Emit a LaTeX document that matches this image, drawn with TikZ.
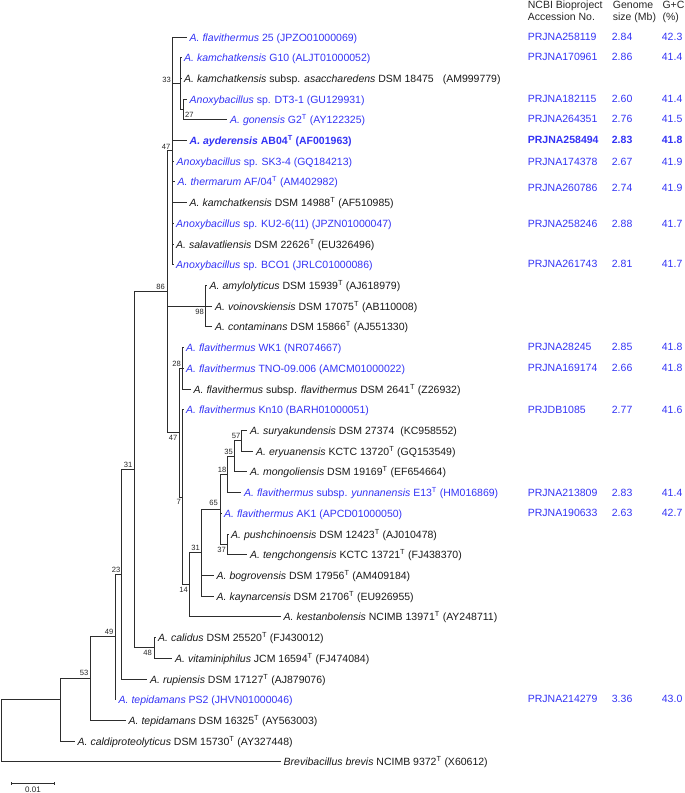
\documentclass[tikz,border=0pt]{standalone}
\usepackage{fontspec}
\setmainfont{Liberation Sans}
\usepackage{xcolor}
\usepackage{tikz}
\usetikzlibrary{calc}

\definecolor{strainblue}{RGB}{51,51,245}
\definecolor{treegray}{RGB}{45,45,45}
\newcommand{\tstrain}{\textsuperscript{T}}

\tikzset{
  taxon/.style={anchor=west, inner xsep=3pt, inner ysep=0pt, text height=7.5pt, text depth=0pt,
    font=\fontsize{10.5}{12}\selectfont, text=black!90},
  genome/.style={taxon, text=strainblue},
  meta/.style={anchor=west, inner sep=0pt, text height=7.5pt, text depth=0pt,
    font=\fontsize{10.5}{12}\selectfont, text=strainblue},
  head/.style={meta, text=black!85},
  support/.style={inner sep=0pt, font=\fontsize{7.6}{9}\selectfont, text=black!85},
  branch/.style={treegray, line width=1.2pt}
}

\begin{document}
\begin{tikzpicture}[x=1pt, y=-1pt]
  \useasboundingbox (0,0) rectangle (685,793);

  % Taxa
  \node[genome] (t1) at (186.5,37.5) {\textit{A. flavithermus} 25 (JPZO01000069)};
  \node[genome] (t2) at (181,57.5) {\textit{A. kamchatkensis} G10 (ALJT01000052)};
  \node[taxon] (t3) at (181,78.5) {\textit{A. kamchatkensis} subsp. \textit{asaccharedens} DSM 18475\hspace{9pt}(AM999779)};
  \node[genome] (t4) at (186.5,99.5) {\textit{Anoxybacillus} sp. DT3-1 (GU129931)};
  \node[genome] (t5) at (227,119.5) {\textit{A. gonensis} G2\tstrain{} (AY122325)};
  \node[genome, font=\fontsize{10.5}{12}\selectfont\bfseries] (t6) at (186.5,140.5) {\textit{A. ayderensis} AB04\tstrain{} (AF001963)};
  \node[genome] (t7) at (173.5,161.5) {\textit{Anoxybacillus} sp. SK3-4 (GQ184213)};
  \node[genome] (t8) at (174.5,181.5) {\textit{A. thermarum} AF/04\tstrain{} (AM402982)};
  \node[taxon] (t9) at (186.5,202.5) {\textit{A. kamchatkensis} DSM 14988\tstrain{} (AF510985)};
  \node[genome] (t10) at (173,223.5) {\textit{Anoxybacillus} sp. KU2-6(11) (JPZN01000047)};
  \node[taxon] (t11) at (173,244.5) {\textit{A. salavatliensis} DSM 22626\tstrain{} (EU326496)};
  \node[genome] (t12) at (173,264.5) {\textit{Anoxybacillus} sp. BCO1 (JRLC01000086)};
  \node[taxon] (t13) at (206.5,285.5) {\textit{A. amylolyticus} DSM 15939\tstrain{} (AJ618979)};
  \node[taxon] (t14) at (212,306.5) {\textit{A. voinovskiensis} DSM 17075\tstrain{} (AB110008)};
  \node[taxon] (t15) at (212,326.5) {\textit{A. contaminans} DSM 15866\tstrain{} (AJ551330)};
  \node[genome] (t16) at (183,347.5) {\textit{A. flavithermus} WK1 (NR074667)};
  \node[genome] (t17) at (183,368.5) {\textit{A. flavithermus} TNO-09.006 (AMCM01000022)};
  \node[taxon] (t18) at (190.5,389.5) {\textit{A. flavithermus} subsp. \textit{flavithermus} DSM 2641\tstrain{} (Z26932)};
  \node[genome] (t19) at (183,409.5) {\textit{A. flavithermus} Kn10 (BARH01000051)};
  \node[taxon] (t20) at (247,430.5) {\textit{A. suryakundensis} DSM 27374\hspace{6pt}(KC958552)};
  \node[taxon] (t21) at (253,451.5) {\textit{A. eryuanensis} KCTC 13720\tstrain{} (GQ153549)};
  \node[taxon] (t22) at (247,471.5) {\textit{A. mongoliensis} DSM 19169\tstrain{} (EF654664)};
  \node[genome] (t23) at (241,492.5) {\textit{A. flavithermus} subsp. \textit{yunnanensis} E13\tstrain{} (HM016869)};
  \node[genome] (t24) at (221,513.5) {\textit{A. flavithermus} AK1 (APCD01000050)};
  \node[taxon] (t25) at (228,534.5) {\textit{A. pushchinoensis} DSM 12423\tstrain{} (AJ010478)};
  \node[taxon] (t26) at (247,554.5) {\textit{A. tengchongensis} KCTC 13721\tstrain{} (FJ438370)};
  \node[taxon] (t27) at (213.5,575.5) {\textit{A. bogrovensis} DSM 17956\tstrain{} (AM409184)};
  \node[taxon] (t28) at (213.5,596.5) {\textit{A. kaynarcensis} DSM 21706\tstrain{} (EU926955)};
  \node[taxon] (t29) at (280.5,616.5) {\textit{A. kestanbolensis} NCIMB 13971\tstrain{} (AY248711)};
  \node[taxon] (t30) at (155,637.5) {\textit{A. calidus} DSM 25520\tstrain{} (FJ430012)};
  \node[taxon] (t31) at (172,658.5) {\textit{A. vitaminiphilus} JCM 16594\tstrain{} (FJ474084)};
  \node[taxon] (t32) at (147,679.5) {\textit{A. rupiensis} DSM 17127\tstrain{} (AJ879076)};
  \node[genome] (t33) at (115.5,699.5) {\textit{A. tepidamans} PS2 (JHVN01000046)};
  \node[taxon] (t34) at (125.5,720.5) {\textit{A. tepidamans} DSM 16325\tstrain{} (AY563003)};
  \node[taxon] (t35) at (74.5,741.5) {\textit{A. caldiproteolyticus} DSM 15730\tstrain{} (AY327448)};
  \node[taxon] (t36) at (280.5,761.5) {\textit{Brevibacillus brevis} NCIMB 9372\tstrain{} (X60612)};

  % Internal nodes
  \coordinate (root) at (1.5,730.5);
  \coordinate (nIn) at (60.5,699.5);
  \coordinate (n53) at (90.5,678.5);
  \coordinate (n49) at (115.5,636.5);
  \coordinate (n23) at (121.5,574.5);
  \coordinate (n31a) at (134.5,469.5);
  \coordinate (n48) at (154.5,647.5);
  \coordinate (n86) at (167.5,291.5);
  \coordinate (n47a) at (172.5,150.5);
  \coordinate (n33) at (180.5,83.5);
  \coordinate (n27) at (183.5,109.5);
  \coordinate (n98) at (205.5,306.5);
  \coordinate (n47b) at (179.5,432.5);
  \coordinate (n28) at (182.5,368.5);
  \coordinate (n7) at (182.5,497.5);
  \coordinate (n14) at (189.5,584.5);
  \coordinate (n31b) at (201.5,552.5);
  \coordinate (n65) at (220.5,509.5);
  \coordinate (n18) at (227.5,474.5);
  \coordinate (n35) at (234.5,456.5);
  \coordinate (n57) at (241.5,440.5);
  \coordinate (n37) at (227.5,544.5);

  % Branches
  \foreach \p/\c in {root/nIn, nIn/n53, n53/n49, n49/n23, n23/n31a, n31a/n86, n31a/n48,
      n86/n47a, n86/n98, n86/n47b, n47a/n33, n33/n27, n47b/n28, n47b/n7, n7/n14,
      n14/n31b, n31b/n65, n65/n18, n65/n37, n18/n35, n35/n57}
    \draw[branch] (\p) |- (\c);
  \foreach \p/\c in {n47a/1, n33/2, n33/3, n27/4, n27/5, n47a/6, n47a/7, n47a/8, n47a/9,
      n47a/10, n47a/11, n47a/12, n98/13, n98/14, n98/15, n28/16, n28/17, n28/18, n7/19,
      n57/20, n57/21, n35/22, n18/23, n65/24, n37/25, n37/26, n31b/27, n31b/28, n14/29,
      n48/30, n48/31, n23/32, n49/33, n53/34, nIn/35, root/36}
    \draw[branch] (\p) |- (t\c.west);

  % Bootstrap values
  \node[support, anchor=south east] (b33) at (171,83) {33};
  \node[support, anchor=south west] (b27) at (185,117.5) {27};
  \node[support, anchor=south east] (b47a) at (170.5,150) {47};
  \node[support, anchor=south east] (b86) at (165,290) {86};
  \node[support, anchor=north east] (b98) at (204,309) {98};
  \node[support, anchor=south east] (b28) at (181,366.5) {28};
  \node[support, anchor=north east] (b47b) at (177.5,435) {47};
  \node[support, anchor=south east] (b57) at (240.5,439) {57};
  \node[support, anchor=south east] (b35) at (233,454.5) {35};
  \node[support, anchor=south east] (b18) at (226.5,473) {18};
  \node[support, anchor=south east] (b65) at (218,505.5) {65};
  \node[support, anchor=north east] (b7) at (181,499) {7};
  \node[support, anchor=south east] (b31b) at (200,550.5) {31};
  \node[support, anchor=north east] (b37) at (226,546.5) {37};
  \node[support, anchor=north east] (b14) at (188,587) {14};
  \node[support, anchor=south east] (b31a) at (132.5,468) {31};
  \node[support, anchor=south east] (b23) at (120.5,572.5) {23};
  \node[support, anchor=north east] (b48) at (152,649.5) {48};
  \node[support, anchor=south east] (b49) at (113.5,634.5) {49};
  \node[support, anchor=south east] (b53) at (88.5,675.5) {53};

  % Scale bar
  \coordinate (sbl) at (11.5,783.5);
  \coordinate (sbr) at (54.5,783.5);
  \draw[branch, line width=1pt] (sbl) -- (sbr);
  \draw[branch, line width=1pt] ($(sbl)+(0,-1.5)$) -- ($(sbl)+(0,1.5)$);
  \draw[branch, line width=1pt] ($(sbr)+(0,-1.5)$) -- ($(sbr)+(0,1.5)$);
  \node[support, anchor=north, font=\fontsize{8}{9}\selectfont] (sbt) at ($(sbl)!0.5!(sbr)+(0,3)$) {0.01};

  % Genome table
  \node[head] (hA1) at (527.7,5) {NCBI Bioproject};
  \node[head] (hA2) at (527.7,16.7) {Accession No.};
  \node[head] (hB1) at (612.7,5) {Genome};
  \node[head] (hB2) at (612.7,16.7) {size (Mb)};
  \node[head] (hC1) at (662.3,5) {G+C};
  \node[head] (hC2) at (662.3,16.7) {(\%)};

  \foreach \y/\acc/\gs/\gc in {36.7/PRJNA258119/2.84/42.3, 56.7/PRJNA170961/2.86/41.4,
      99/PRJNA182115/2.60/41.4, 119/PRJNA264351/2.76/41.5, 161.7/PRJNA174378/2.67/41.9,
      187.3/PRJNA260786/2.74/41.9, 223.3/PRJNA258246/2.88/41.7, 264/PRJNA261743/2.81/41.7,
      346.7/PRJNA28245/2.85/41.8, 367.3/PRJNA169174/2.66/41.8, 409.3/PRJDB1085/2.77/41.6,
      492.3/PRJNA213809/2.83/41.4, 512.3/PRJNA190633/2.63/42.7, 699/PRJNA214279/3.36/43.0}
  {
    \node[meta] at (527.7,\y) {\acc};
    \node[meta] at (611.7,\y) {\gs};
    \node[meta] at (661.7,\y) {\gc};
  }
  \node[meta, font=\fontsize{10.5}{12}\selectfont\bfseries] (pAy) at (527.7,140) {PRJNA258494};
  \node[meta, font=\fontsize{10.5}{12}\selectfont\bfseries] (sAy) at (611.7,140) {2.83};
  \node[meta, font=\fontsize{10.5}{12}\selectfont\bfseries] (gAy) at (661.7,140) {41.8};
\end{tikzpicture}
\end{document}
